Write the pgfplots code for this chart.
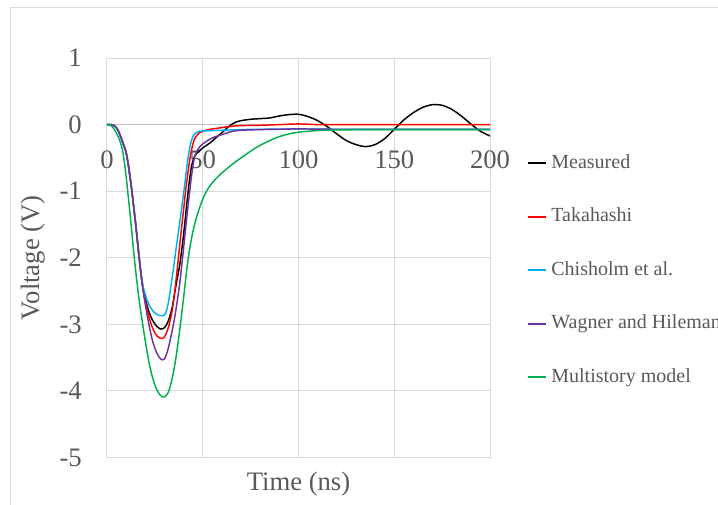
\documentclass[border=0pt]{standalone}
\usepackage{pgfplots}
\pgfplotsset{compat=1.18}
\usepackage{fontspec}
\setmainfont{Liberation Serif}
\definecolor{txt}{HTML}{595959}
\definecolor{gridc}{HTML}{D9D9D9}
\definecolor{zeroc}{HTML}{BFBFBF}
\definecolor{bordc}{HTML}{D9D9D9}
\definecolor{cMeas}{HTML}{000000}
\definecolor{cTaka}{HTML}{FF0000}
\definecolor{cChis}{HTML}{00B0F0}
\definecolor{cWag}{HTML}{7030A0}
\definecolor{cMulti}{HTML}{00B050}
\begin{document}
\begin{tikzpicture}
\draw[draw=bordc, line width=0.75pt] (7.5pt,-20pt) rectangle (560pt,372pt);
\begin{axis}[
  at={(80.25pt,34.875pt)}, anchor=south west,
  scale only axis, width=287.25pt, height=299.6pt,
  xmin=0, xmax=200, ymin=-5, ymax=1,
  xtick={0,50,100,150,200}, xticklabels={0,50,100,150,200},
  ytick={-5,-4,-3,-2,-1,0,1}, yticklabels={-5,-4,-3,-2,-1,0,1},
  major tick length=0pt,
  grid=major, grid style={color=gridc, line width=0.75pt},
  axis line style={draw=none},
  tick label style={font=\fontsize{20}{24}\selectfont, text=txt, inner sep=0pt},
  yticklabel style={anchor=east, xshift=-18.75pt},
  xticklabel style={anchor=north, yshift=230.6pt},
  extra y ticks={0}, extra y tick labels={},
  extra y tick style={grid style={color=zeroc, line width=0.9pt}},
  xlabel={Time (ns)},
  xlabel style={at={(axis description cs:0.5,-0.0663)}, anchor=center, font=\fontsize{20}{24}\selectfont, text=txt},
  ylabel={Voltage (V)},
  ylabel style={at={(axis description cs:-0.193,0.5)}, anchor=center, font=\fontsize{20}{24}\selectfont, text=txt},
  legend style={at={(axis description cs:1.0966,0.7597)}, anchor=north west, draw=none, fill=none, inner sep=0pt,
    font=\fontsize{15}{18}\selectfont, text=txt, row sep=26.6pt, column sep=3pt,
    nodes={inner sep=0pt, text height=10.5pt, text depth=3pt}},
  legend cell align=left,
  legend image code/.code={\draw[#1, line width=1.6pt] (0pt,0pt) -- (13.5pt,0pt);},
  every axis plot/.append style={line width=1.1pt},
]
\addplot[cMeas, smooth] coordinates {(0,0)(2,0)(3,-0.005)(4,-0.02)(5,-0.05)(6,-0.1)(7,-0.17)(8,-0.25)(9,-0.33)(10,-0.42)(11,-0.58)(12,-0.78)(13,-1.0)(14,-1.25)(15,-1.5)(16,-1.78)(17,-2.05)(18,-2.3)(19,-2.48)(20,-2.62)(22,-2.82)(24,-2.95)(26,-3.03)(28,-3.07)(30,-3.05)(32,-2.95)(34,-2.75)(36,-2.42)(38,-2.1)(40,-1.65)(42,-1.1)(43,-0.85)(44,-0.65)(45,-0.53)(46,-0.46)(48,-0.4)(50,-0.35)(52,-0.31)(54,-0.27)(56,-0.22)(58,-0.17)(60,-0.12)(62,-0.07)(64,-0.02)(66,0.02)(68,0.045)(70,0.06)(75,0.08)(80,0.09)(85,0.1)(90,0.13)(95,0.15)(100,0.155)(105,0.12)(110,0.06)(115,-0.03)(120,-0.14)(125,-0.24)(130,-0.3)(135,-0.33)(140,-0.3)(145,-0.21)(150,-0.07)(155,0.07)(160,0.18)(165,0.26)(170,0.3)(175,0.29)(180,0.23)(185,0.13)(190,0.01)(195,-0.1)(200,-0.17)};
\addlegendentry{Measured}
\addplot[cTaka, smooth] coordinates {(0,0)(2,0)(3,-0.005)(4,-0.02)(5,-0.05)(6,-0.1)(7,-0.17)(8,-0.25)(9,-0.33)(10,-0.42)(11,-0.58)(12,-0.78)(13,-1.0)(14,-1.25)(15,-1.5)(16,-1.78)(17,-2.05)(18,-2.3)(19,-2.5)(20,-2.65)(22,-2.9)(24,-3.07)(26,-3.17)(28,-3.21)(30,-3.19)(32,-3.05)(34,-2.8)(36,-2.35)(38,-1.8)(40,-1.28)(41,-1.0)(42,-0.78)(43,-0.57)(44,-0.4)(45,-0.28)(46,-0.2)(48,-0.13)(50,-0.1)(52,-0.08)(55,-0.065)(60,-0.045)(65,-0.025)(70,-0.015)(80,-0.01)(90,0.0)(100,0.01)(110,0.0)(120,0.0)(140,0.0)(160,0.0)(180,0.0)(200,0.0)};
\addlegendentry{Takahashi}
\addplot[cChis, smooth] coordinates {(0,0)(2,0)(3,-0.005)(4,-0.02)(5,-0.05)(6,-0.1)(7,-0.17)(8,-0.25)(9,-0.33)(10,-0.42)(11,-0.58)(12,-0.78)(13,-1.0)(14,-1.25)(15,-1.5)(16,-1.78)(17,-2.05)(18,-2.28)(19,-2.45)(20,-2.55)(21,-2.64)(22,-2.71)(24,-2.8)(26,-2.85)(28,-2.87)(30,-2.86)(31,-2.8)(32,-2.68)(33,-2.5)(34,-2.3)(35,-2.1)(36,-1.88)(38,-1.47)(40,-1.03)(41,-0.8)(42,-0.57)(43,-0.38)(44,-0.25)(45,-0.17)(46,-0.135)(48,-0.1)(50,-0.095)(55,-0.09)(60,-0.085)(70,-0.075)(80,-0.07)(100,-0.065)(120,-0.07)(140,-0.07)(160,-0.07)(180,-0.07)(200,-0.07)};
\addlegendentry{Chisholm et al.}
\addplot[cWag, smooth] coordinates {(0,0)(2,0)(3,-0.005)(4,-0.02)(5,-0.05)(6,-0.1)(7,-0.17)(8,-0.25)(9,-0.33)(10,-0.42)(11,-0.58)(12,-0.78)(13,-1.0)(14,-1.25)(15,-1.5)(16,-1.78)(17,-2.05)(18,-2.3)(19,-2.52)(20,-2.7)(22,-3.02)(24,-3.27)(26,-3.43)(28,-3.52)(30,-3.52)(32,-3.36)(34,-3.1)(35,-2.95)(36,-2.78)(38,-2.38)(40,-1.85)(42,-1.3)(43,-1.05)(44,-0.8)(45,-0.6)(46,-0.46)(48,-0.35)(50,-0.29)(52,-0.25)(55,-0.2)(60,-0.15)(65,-0.105)(70,-0.085)(80,-0.075)(90,-0.07)(100,-0.065)(120,-0.07)(140,-0.07)(160,-0.07)(180,-0.07)(200,-0.07)};
\addlegendentry{Wagner and Hileman}
\addplot[cMulti, smooth] coordinates {(0,0)(2,-0.01)(3,-0.04)(4,-0.08)(5,-0.13)(6,-0.19)(7,-0.27)(8,-0.37)(9,-0.55)(10,-0.78)(11,-1.05)(12,-1.33)(13,-1.62)(14,-1.93)(15,-2.2)(16,-2.45)(17,-2.68)(18,-2.88)(20,-3.25)(22,-3.58)(24,-3.82)(26,-3.98)(28,-4.07)(30,-4.09)(32,-4.02)(34,-3.82)(36,-3.5)(38,-3.08)(40,-2.6)(42,-2.1)(44,-1.73)(46,-1.47)(48,-1.28)(50,-1.12)(52,-1.0)(54,-0.91)(56,-0.84)(58,-0.78)(61,-0.7)(64,-0.63)(68,-0.54)(72,-0.46)(76,-0.38)(80,-0.31)(85,-0.24)(90,-0.18)(95,-0.14)(100,-0.115)(105,-0.1)(110,-0.09)(120,-0.08)(140,-0.075)(160,-0.075)(180,-0.075)(200,-0.075)};
\addlegendentry{Multistory model}
\end{axis}
\pgfresetboundingbox
\path[use as bounding box] (0,0) rectangle (538.5pt,378pt);
\end{tikzpicture}
\end{document}
